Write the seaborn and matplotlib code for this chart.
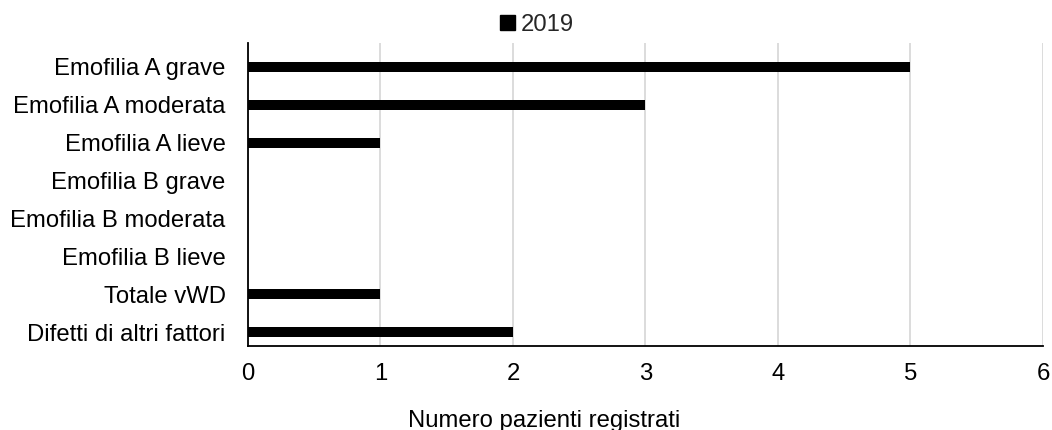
import matplotlib
matplotlib.use("Agg")
import matplotlib.pyplot as plt
import seaborn as sns
import pandas as pd
from matplotlib.patches import Patch

categories = [
    "Emofilia A grave",
    "Emofilia A moderata",
    "Emofilia A lieve",
    "Emofilia B grave",
    "Emofilia B moderata",
    "Emofilia B lieve",
    "Totale vWD",
    "Difetti di altri fattori",
]
values_2019 = [5, 3, 1, 0, 0, 0, 1, 2]
series_name = "2019"
x_ticks = [0, 1, 2, 3, 4, 5, 6]
x_label = "Numero pazienti registrati"

FS = 17.2

sns.set_theme(style="white")
plt.rcParams["font.family"] = ["Liberation Sans", "DejaVu Sans"]

df = pd.DataFrame({"categoria": categories, "pazienti": values_2019})

fig = plt.figure(figsize=(10.52, 4.3), dpi=100)
ax = fig.add_axes([0.2357, 0.1953, 0.9914 - 0.2357, 0.9 - 0.1953])

sns.barplot(data=df, y="categoria", x="pazienti", order=categories,
            color="black", width=0.26, saturation=1, linewidth=0,
            ax=ax, zorder=3)

ax.set_xlim(0, 6)
ax.set_ylim(7.37, -0.63)
ax.set_xticks(x_ticks)
ax.set_xticklabels([str(t) for t in x_ticks])
ax.xaxis.grid(True, color="#d9d9d9", linewidth=1.3, zorder=0)
ax.yaxis.grid(False)
ax.set_axisbelow(True)

for side in ["top", "right"]:
    ax.spines[side].set_visible(False)
for side in ["left", "bottom"]:
    ax.spines[side].set_color("black")
    ax.spines[side].set_linewidth(1.3)
    ax.spines[side].set_zorder(4)

ax.tick_params(axis="both", length=0, labelsize=FS, colors="#000000")
ax.tick_params(axis="x", pad=12.5)
ax.tick_params(axis="y", pad=16)
ax.set_ylabel("")
ax.set_xlabel("")

# axis title centred on the whole chart area, sitting at the bottom edge
fig.text(0.517, 3 / 430, x_label, ha="center", va="baseline",
         fontsize=FS, color="black")

handle = Patch(facecolor="black", edgecolor="black", label=series_name)
fig.legend(handles=[handle], loc="center", bbox_to_anchor=(0.5105, 0.943),
           frameon=False, fontsize=FS, handlelength=0.6, handleheight=0.6,
           handletextpad=0.25, borderaxespad=0)

fig.savefig("out.png", dpi=100, facecolor="white")
